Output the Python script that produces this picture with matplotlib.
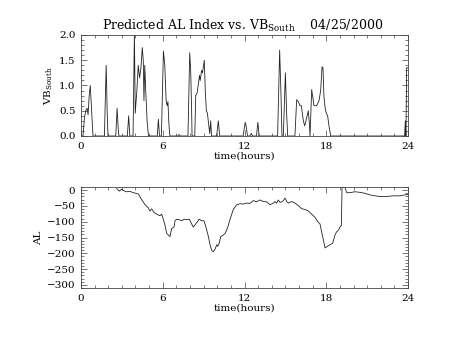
import matplotlib
matplotlib.use("Agg")
import matplotlib.pyplot as plt
from matplotlib.ticker import MultipleLocator

# southward IMF component (VB_South), hours vs value
vb_hours = [0.0, 0.15, 0.25, 0.35, 0.45, 0.52, 0.6, 0.68, 0.78, 0.88,
            1.72, 1.8, 1.85, 1.92, 1.98,
            2.55, 2.65, 2.72, 2.78,
            3.4, 3.5, 3.58,
            3.82, 3.92, 3.98, 4.1, 4.2, 4.3, 4.4, 4.5, 4.57, 4.62, 4.68, 4.75, 4.85, 4.95,
            5.6, 5.68, 5.76,
            5.9, 6.05, 6.15, 6.25, 6.32, 6.38, 6.45, 6.52,
            7.1, 7.2, 7.3,
            7.85, 7.98, 8.05, 8.12, 8.15,
            8.35, 8.42, 8.52, 8.6, 8.7, 8.75, 8.85, 8.92, 9.05, 9.12, 9.2, 9.28,
            9.38, 9.45, 9.52, 9.58,
            9.95, 10.08, 10.18,
            11.9, 12.05, 12.12, 12.22, 12.4, 12.5, 12.6, 12.88, 12.98, 13.08,
            14.43, 14.58, 14.68, 14.75,
            14.85, 15.0, 15.1, 15.17,
            15.7, 15.83, 15.95, 16.07, 16.17, 16.32, 16.42, 16.51, 16.68, 16.76, 16.81,
            16.93, 17.1, 17.3, 17.47, 17.59, 17.69, 17.76, 17.83, 17.92, 18.0, 18.1,
            18.2, 18.33,
            23.75, 23.8, 23.85, 23.9, 24.0]
vb_south = [0.0, 0.0, 0.35, 0.5, 0.55, 0.42, 0.8, 1.0, 0.5, 0.0,
            0.0, 0.9, 1.4, 0.5, 0.0,
            0.0, 0.55, 0.2, 0.0,
            0.0, 0.4, 0.0,
            0.0, 2.05, 0.45, 0.9, 1.4, 1.15, 1.35, 1.75, 1.5, 0.7, 1.4, 0.9, 0.3, 0.0,
            0.0, 0.33, 0.0,
            0.0, 1.68, 1.4, 0.7, 0.6, 0.68, 0.25, 0.0,
            0.0, 0.03, 0.0,
            0.0, 1.65, 1.3, 0.5, 0.0,
            0.0, 0.8, 0.85, 1.0, 1.2, 1.1, 1.3, 1.25, 1.5, 0.9, 0.5, 0.45,
            0.2, 0.05, 0.3, 0.0,
            0.0, 0.3, 0.0,
            0.0, 0.27, 0.2, 0.0, 0.0, 0.05, 0.0, 0.0, 0.27, 0.0,
            0.0, 1.7, 0.8, 0.0,
            0.0, 1.25, 0.4, 0.0,
            0.0, 0.72, 0.68, 0.6, 0.6, 0.3, 0.2, 0.3, 0.5, 0.25, 0.0,
            0.92, 0.6, 0.6, 0.7, 0.9, 1.37, 1.35, 0.78, 0.55, 0.45, 0.4,
            0.2, 0.0,
            0.0, 0.3, 0.0, 1.35, 1.35]

# predicted AL index (nT)
al_hours = [2.62, 2.81, 2.98, 3.16, 3.35, 3.60, 3.84, 4.21, 4.45, 4.70,
            4.94, 5.06, 5.19, 5.36, 5.55, 5.80, 5.92, 6.04, 6.17, 6.29,
            6.41, 6.53, 6.65, 6.83, 6.90, 7.02, 7.22, 7.39, 7.56, 7.76,
            7.95, 8.12, 8.24, 8.42, 8.54, 8.68, 8.86, 9.03, 9.17, 9.35,
            9.47, 9.59, 9.71, 9.83, 9.96, 10.03, 10.15, 10.25, 10.45, 10.57,
            10.69, 10.81, 10.94, 11.18, 11.43, 11.67, 11.91, 12.16, 12.40, 12.65,
            12.89, 13.14, 13.38, 13.63, 13.87, 14.12, 14.24, 14.36, 14.48, 14.61,
            14.73, 14.85, 14.97, 15.10, 15.22, 15.46, 15.71, 15.95, 16.20, 16.44,
            16.68, 16.93, 17.17, 17.42, 17.54, 17.66, 17.79, 17.91, 18.08, 18.28,
            18.47, 18.64, 18.76, 18.89, 19.01, 19.11, 19.16, 19.38, 19.50, 19.74,
            20.11, 20.48, 20.84, 21.21, 21.58, 21.94, 22.43, 22.92, 23.41, 23.78,
            23.98]
al_index = [5, -3, 3, -2, -5, -4, -8, -12, -30, -46,
            -56, -66, -59, -71, -76, -81, -76, -92, -112, -137,
            -142, -147, -122, -117, -97, -92, -94, -97, -92, -94,
            -92, -107, -117, -107, -100, -92, -97, -97, -117, -147,
            -173, -191, -195, -188, -173, -178, -168, -147, -142, -137,
            -127, -112, -92, -61, -46, -43, -44, -41, -42, -33,
            -37, -31, -36, -37, -46, -41, -36, -41, -31, -39,
            -37, -33, -25, -36, -41, -36, -41, -49, -59, -61,
            -66, -76, -86, -102, -107, -132, -158, -183, -178, -173,
            -168, -142, -132, -127, -117, -112, 10, 8, -8, -8,
            -5, -7, -10, -15, -18, -20, -20, -18, -18, -15,
            -13]

hour_ticks = [0, 6, 12, 18, 24]

plt.rcParams["font.family"] = "DejaVu Serif"
plt.rcParams["font.size"] = 7.5

fig = plt.figure(figsize=(4.54, 3.41), dpi=100)
ax1 = fig.add_axes([0.1784, 0.6012, 0.7203, 0.2962])
ax2 = fig.add_axes([0.1784, 0.1554, 0.7203, 0.2962])

ax1.plot(vb_hours, vb_south, color="#222222", lw=0.6)
ax1.set_ylim(0, 2.0)
ax1.yaxis.set_major_locator(MultipleLocator(0.5))
ax1.yaxis.set_minor_locator(MultipleLocator(0.1))
ax1.yaxis.set_major_formatter(plt.FormatStrFormatter("%.1f"))
ax1.set_ylabel("VB$_{\\mathregular{South}}$", labelpad=3)

ax2.plot(al_hours, al_index, color="#222222", lw=0.6)
ax2.set_ylim(-310, 10)
ax2.yaxis.set_major_locator(MultipleLocator(50))
ax2.yaxis.set_minor_locator(MultipleLocator(10))
ax2.set_ylabel("AL", labelpad=3)

for ax in (ax1, ax2):
    ax.set_xlim(0, 24)
    ax.set_xticks(hour_ticks)
    ax.xaxis.set_minor_locator(MultipleLocator(1))
    ax.set_xlabel("time(hours)", labelpad=1)
    ax.tick_params(which="both", direction="in", top=True, right=True,
                   width=0.5, color="#444444", labelsize=7.5, pad=4)
    ax.tick_params(which="major", length=4)
    ax.tick_params(which="minor", length=2)
    for spine in ax.spines.values():
        spine.set_linewidth(0.6)
        spine.set_color("#444444")

fig.text(0.535, 0.925, "Predicted AL Index vs. VB$_{\\mathregular{South}}$    04/25/2000",
         ha="center", va="center", fontsize=9)

fig.savefig("out.png", dpi=100)
plt.close(fig)
